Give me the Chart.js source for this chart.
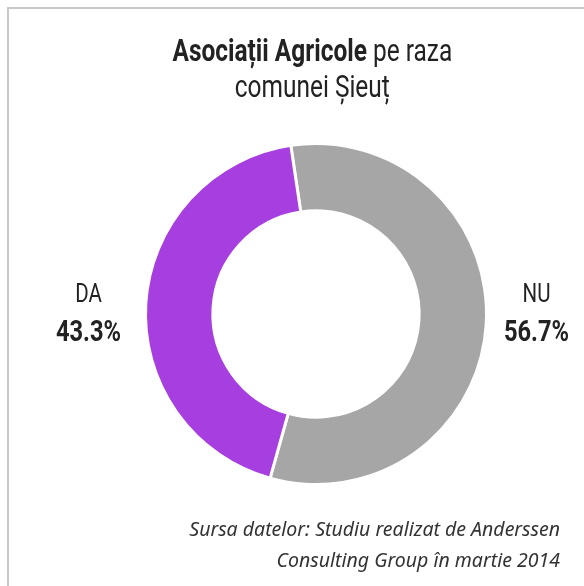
<!DOCTYPE html>
<html>
<head>
<meta charset="utf-8">
<script src="https://cdn.jsdelivr.net/npm/chart.js@4"></script>
<style>
  body { margin: 0; background: #fff; }
  #frame {
    position: absolute; left: 7px; top: 7px; width: 577px; height: 579px;
    border-top: 2px solid #c8c8c8; border-left: 2px solid #c8c8c8;
  }
  #title {
    position: absolute; left: 40px; width: 544px; top: 33px;
    text-align: center; font-family: Roboto, sans-serif;
    font-size: 31px; line-height: 36px; color: #222;
  }
  #title span { display: inline-block; white-space: nowrap; transform-origin: 50% 50%; }
  #title b { font-weight: bold; }
  #source {
    position: absolute; right: 24px; top: 513px;
    text-align: right; font-family: 'Noto Sans', sans-serif; font-style: italic;
    font-size: 19.5px; line-height: 31px; color: #333;
  }
  #wrap { position: absolute; left: 0; top: 0; width: 584px; height: 586px; }
</style>
</head>
<body>
<div id="frame"></div>
<div id="wrap"><canvas id="donut"></canvas></div>
<div id="title"><span id="t1"><b>Asociații Agricole</b> pe raza</span><br><span id="t2">comunei Șieuț</span></div>
<div id="source">Sursa datelor: Studiu realizat de Anderssen<br>Consulting Group în martie 2014</div>
<script>
// data
const labels = ['NU', 'DA'];
const values = [56.7, 43.3];
const colors = ['#a6a6a6', '#a63ee0'];

// squeeze the title into a narrow look (no narrow font installed)
const t1 = document.getElementById('t1');
const squeeze = 280 / t1.offsetWidth;
t1.style.transform = 'scaleX(' + squeeze + ')';
document.getElementById('t2').style.transform = 'scaleX(' + squeeze + ')';

const labelFont = 'Roboto, sans-serif';

// draws "NU / 56.7%" next to each side of the ring
const sideLabels = {
    id: 'sideLabels',
    afterDraw(chart) {
        const ctx = chart.ctx;
        const meta = chart.getDatasetMeta(0);
        meta.data.forEach(function(arc, i) {
            const mid = (arc.startAngle + arc.endAngle) / 2;
            const right = Math.cos(mid) > 0;
            const x = arc.x + (right ? arc.outerRadius + 50 : -(arc.outerRadius + 57));
            const y = arc.y;
            ctx.save();
            ctx.translate(x, y);
            ctx.scale(squeeze, 1);
            ctx.fillStyle = '#222';
            ctx.textAlign = 'center';
            ctx.textBaseline = 'alphabetic';
            ctx.font = '26px ' + labelFont;
            ctx.fillText(chart.data.labels[i], 0, -12);
            ctx.font = 'bold 30px ' + labelFont;
            ctx.fillText(chart.data.datasets[0].data[i].toFixed(1) + '%', 0, 27);
            ctx.restore();
        });
    }
};

const ctx = document.getElementById('donut').getContext('2d');
new Chart(ctx, {
    type: 'doughnut',
    data: {
        labels: labels,
        datasets: [{
            data: values,
            backgroundColor: colors,
            borderColor: '#fff',
            borderWidth: 3,
            hoverOffset: 0
        }]
    },
    options: {
        responsive: true,
        maintainAspectRatio: false,
        animation: false,
        rotation: -8.5,
        cutout: '60.5%',
        layout: { padding: { left: 144, right: 96, top: 142, bottom: 100 } },
        plugins: {
            legend: { display: false },
            tooltip: { enabled: false }
        }
    },
    plugins: [sideLabels]
});
</script>
</body>
</html>
